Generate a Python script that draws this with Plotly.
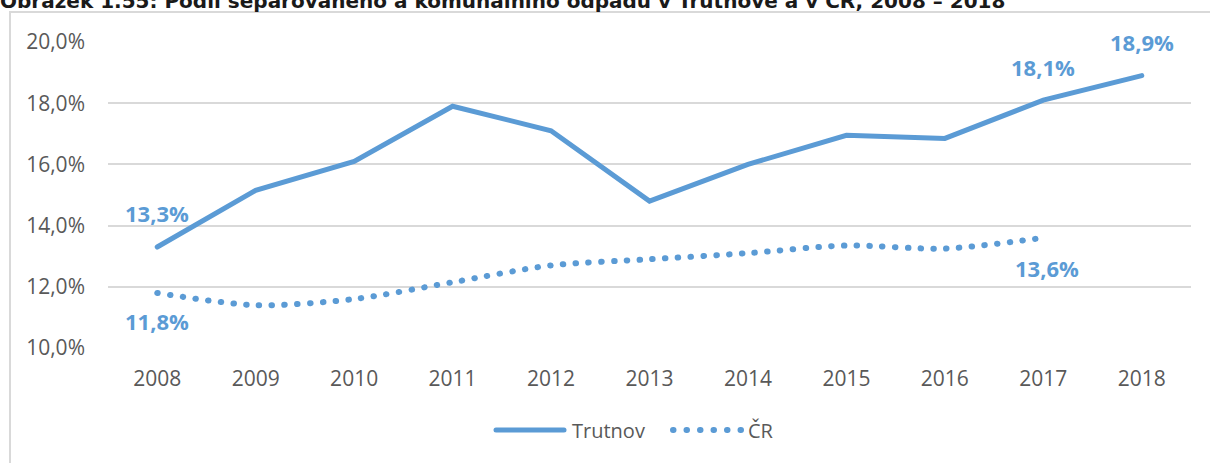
import plotly.graph_objects as go

years = ["2008", "2009", "2010", "2011", "2012", "2013", "2014", "2015", "2016", "2017", "2018"]
trutnov = [13.3, 15.15, 16.1, 17.9, 17.1, 14.8, 16.0, 16.95, 16.85, 18.1, 18.9]
cr = [11.8, 11.4, 11.6, 12.15, 12.7, 12.9, 13.1, 13.35, 13.25, 13.6, None]
y_ticks = [10, 12, 14, 16, 18, 20]
title_text = "Obrázek 1.55: Podíl separovaného a komunálního odpadu v Trutnově a v ČR, 2008 – 2018"

BLUE = "#5B9BD5"
GREY_TXT = "#595959"
GRID = "#D9D9D9"

W, H = 1210, 463
L, R, T, B = 108, 19, 42, 115
PW, PH = W - L - R, H - T - B


def px(x):
    return (x - L) / PW


def py(y):
    return 1 - (y - T) / PH


def pct(v):
    return f"{v:.1f}".replace(".", ",") + "%"


fig = go.Figure()
fig.add_trace(go.Scatter(
    x=years, y=trutnov, mode="lines", name="Trutnov",
    line=dict(color=BLUE, width=5), showlegend=False, hoverinfo="skip",
))
fig.add_trace(go.Scatter(
    x=years, y=cr, mode="lines", name="ČR",
    line=dict(color=BLUE, width=6, dash="0.5px,12.3px", shape="spline", smoothing=0.8),
    showlegend=False, hoverinfo="skip",
))

label_font = dict(family="Open Sans", size=22, color=BLUE, weight="bold")
# value labels: (series values, index, horizontal shift, vertical shift in px)
labels = [
    (trutnov, 0, 0, 34), (trutnov, 9, 0, 33), (trutnov, 10, 0, 34),
    (cr, 0, 0, -28), (cr, 9, 4, -30),
]
annotations = []
for series, i, dx, dy in labels:
    annotations.append(dict(
        x=i, y=series[i], xref="x", yref="y", text=pct(series[i]),
        showarrow=False, xshift=dx, yshift=dy, font=label_font,
    ))

# legend drawn below the plot
leg_y = py(430)
legend_font = dict(family="Open Sans", size=20, color=GREY_TXT)
annotations += [
    dict(x=px(570), y=leg_y, xref="paper", yref="paper", text="Trutnov",
         showarrow=False, xanchor="left", yanchor="middle", font=legend_font),
    dict(x=px(746), y=leg_y, xref="paper", yref="paper", text="ČR",
         showarrow=False, xanchor="left", yanchor="middle", font=legend_font),
]

shapes = [
    # chart frame
    dict(type="rect", xref="paper", yref="paper",
         x0=px(10), x1=px(1220), y0=py(480), y1=py(12),
         line=dict(color=GRID, width=2), layer="below"),
    dict(type="line", xref="paper", yref="paper",
         x0=px(496), x1=px(564), y0=leg_y, y1=leg_y,
         line=dict(color=BLUE, width=5)),
    dict(type="line", xref="paper", yref="paper",
         x0=px(673), x1=px(741), y0=leg_y, y1=leg_y,
         line=dict(color=BLUE, width=6, dash="0.5px,13px")),
]

fig.update_layout(
    width=W, height=H,
    margin=dict(l=L, r=R, t=T, b=B, pad=0),
    paper_bgcolor="white", plot_bgcolor="white",
    title=dict(text=title_text, x=0, xref="container", xanchor="left",
               y=1 - 8 / H, yref="container", yanchor="bottom",
               font=dict(family="DejaVu Sans", size=20, color="#1a1a1a", weight="bold")),
    annotations=annotations, shapes=shapes,
    xaxis=dict(type="category", range=[-0.5, 10.5], showgrid=False, zeroline=False,
               showline=False, ticks="", tickfont=dict(family="Open Sans", size=21, color=GREY_TXT),
               ticklabelstandoff=16, fixedrange=True),
    yaxis=dict(range=[10, 20], tickvals=y_ticks, ticktext=[pct(v) for v in y_ticks],
               showgrid=True, gridcolor=GRID, gridwidth=1.5, zeroline=False, showline=False,
               ticks="", tickfont=dict(family="Open Sans", size=21, color=GREY_TXT),
               ticklabelstandoff=22, fixedrange=True),
    showlegend=False,
)

round_caps = """
document.querySelectorAll('.scatterlayer .js-line, .layer-above path, .layer-below path').forEach(function(p){
  p.style.strokeLinecap = 'round';
});
"""

fig.write_html("out.html", post_script=round_caps, config={"displayModeBar": False})
